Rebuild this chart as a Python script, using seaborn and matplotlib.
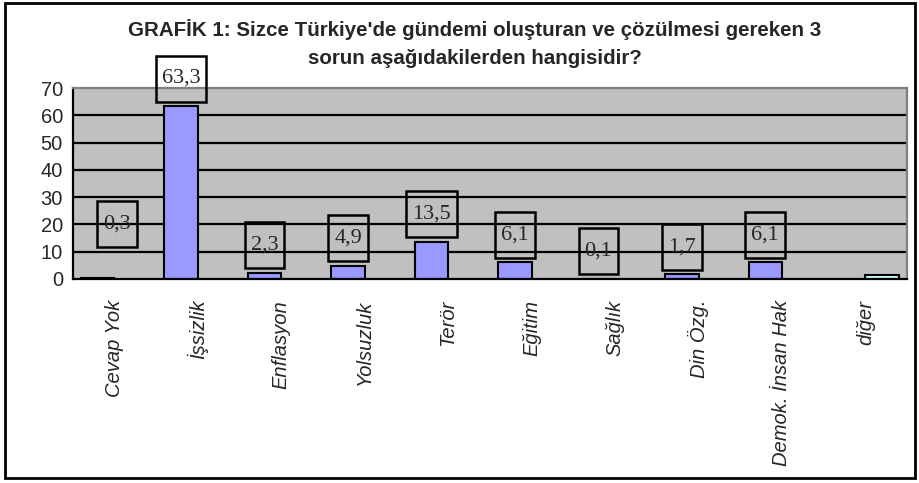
import matplotlib
matplotlib.use("Agg")
import matplotlib.pyplot as plt
from matplotlib.patches import Rectangle
import seaborn as sns
import pandas as pd

categories = ["Cevap Yok", "İşsizlik", "Enflasyon", "Yolsuzluk", "Terör",
              "Eğitim", "Sağlık", "Din Özg.", "Demok. İnsan Hak", "diğer"]
main_values = [0.3, 63.3, 2.3, 4.9, 13.5, 6.1, 0.1, 1.7, 6.1]
other_values = [1.6]
title_lines = ["GRAFİK 1: Sizce Türkiye'de gündemi oluşturan ve çözülmesi gereken 3",
               "sorun aşağıdakilerden hangisidir?"]

# two series like the original spreadsheet: main answers and "diğer"
df = pd.concat([
    pd.DataFrame({"kategori": categories[:len(main_values)], "deger": main_values, "seri": "A"}),
    pd.DataFrame({"kategori": categories[len(main_values):], "deger": other_values, "seri": "B"}),
], ignore_index=True)

sns.set_style("white")
plt.rcParams["font.family"] = ["Liberation Sans", "DejaVu Sans"]

fig = plt.figure(figsize=(9.2, 4.83), dpi=100)
ax = fig.add_axes([0.079, 0.4224, 0.907, 0.3954])
ax.set_facecolor("#C0C0C0")

sns.barplot(data=df, x="kategori", y="deger", hue="seri", order=categories,
            hue_order=["A", "B"], dodge=True, saturation=1,
            palette={"A": "#9999FF", "B": "#CCFFFF"}, edgecolor="black",
            linewidth=1.5, width=0.8, legend=False, ax=ax)

ax.set_ylim(0, 70)
ax.set_xlim(-0.5, len(categories) - 0.5)
ax.set_yticks(range(0, 71, 10))
for y in range(10, 70, 10):
    ax.axhline(y, color="black", lw=1.6, zorder=0.5)

ax.set_xlabel("")
ax.set_ylabel("")
ax.set_xticks(range(len(categories)))
ax.set_xticklabels(categories, rotation=90, fontsize=14.5, style="italic",
                   ha="center", va="top")
ax.set_xticks([i - 0.5 for i in range(len(categories) + 1)], minor=True)
ax.tick_params(axis="x", which="major", length=0, pad=15)
ax.tick_params(axis="x", which="minor", length=5, width=1.5, color="black", direction="out")
ax.tick_params(axis="y", length=5, width=1.5, color="black", direction="out",
               labelsize=14.5, pad=2)

for side in ["left", "bottom"]:
    ax.spines[side].set_color("black")
    ax.spines[side].set_linewidth(1.6)
for side in ["top", "right"]:
    ax.spines[side].set_color("#808080")
    ax.spines[side].set_linewidth(1.6)

# value labels (series A only), boxed like the original
nudge = {"Cevap Yok": (14, 39)}
labels = []
for cat, val, bar in zip(categories, main_values, ax.containers[0]):
    xc = bar.get_x() + bar.get_width() / 2
    dx, dy = nudge.get(cat, (0, 20))
    t = ax.annotate(f"{val:.1f}".replace(".", ","), (xc, val), xytext=(dx, dy),
                    textcoords="offset points", ha="center", va="center",
                    fontsize=16, family=["Liberation Serif", "DejaVu Serif"],
                    annotation_clip=False)
    labels.append(t)

fig.canvas.draw()
inv = ax.transData.inverted()
for t in labels:
    bb = t.get_window_extent()
    cx, cy = (bb.x0 + bb.x1) / 2, (bb.y0 + bb.y1) / 2
    w, h = bb.width + 12, 46
    (x0, y0), (x1, y1) = inv.transform([(cx - w / 2, cy - h / 2), (cx + w / 2, cy + h / 2)])
    ax.add_patch(Rectangle((x0, y0), x1 - x0, y1 - y0, fill=False, ec="black",
                           lw=1.8, clip_on=False, zorder=5))

fig.text(0.516, 0.9255, title_lines[0], ha="center", va="baseline", fontsize=14.8,
         fontweight="bold")
fig.text(0.516, 0.8675, title_lines[1], ha="center", va="baseline", fontsize=14.8,
         fontweight="bold")

fig.patches.append(Rectangle((0.0054, 0.0104), 0.989, 0.983, transform=fig.transFigure,
                             fill=False, ec="black", lw=2))

fig.savefig("out.png", dpi=100)
